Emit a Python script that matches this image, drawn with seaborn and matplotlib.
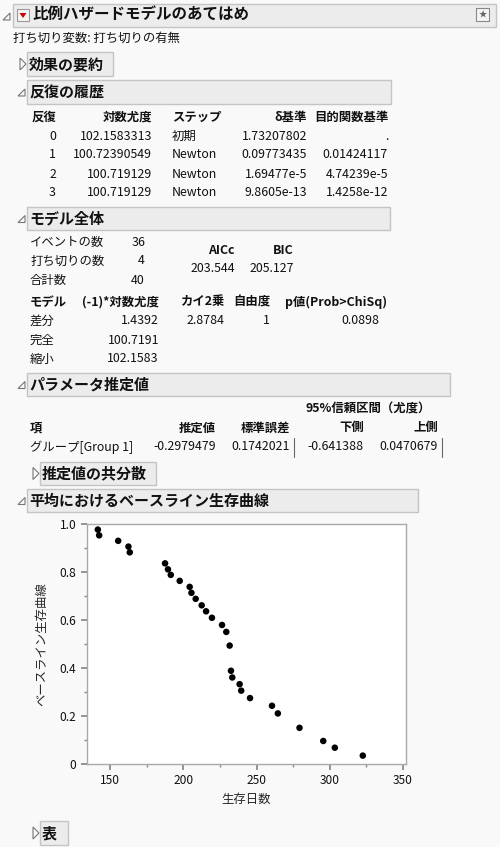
import matplotlib
matplotlib.use("Agg")
import matplotlib.pyplot as plt
import seaborn as sns
import pandas as pd
from matplotlib.patches import Rectangle, Polygon

sns.set_theme(style="white")
plt.rcParams['font.family'] = ['Noto Sans CJK JP', 'DejaVu Sans']

# ---- data ----
survival_days = [141.6, 142.5, 155.5, 162.5, 163.4, 187.5, 189.5, 191.4, 197.5, 204.3,
                 205.5, 208.4, 212.5, 215.5, 219.5, 226.4, 229.3, 231.6, 232.5, 233.4,
                 238.4, 239.5, 245.5, 260.5, 264.5, 279.3, 295.5, 303.4, 322.5]
survival_prob = [0.978, 0.954, 0.931, 0.907, 0.883, 0.837, 0.812, 0.789, 0.764, 0.739,
                 0.714, 0.689, 0.662, 0.637, 0.610, 0.580, 0.551, 0.494, 0.389, 0.361,
                 0.333, 0.306, 0.275, 0.243, 0.211, 0.151, 0.096, 0.068, 0.035]
x_ticks = [150, 200, 250, 300, 350]
y_ticks = [0, 0.2, 0.4, 0.6, 0.8, 1.0]

iter_header = ["反復", "対数尤度", "ステップ", "δ基準", "目的関数基準"]
iter_rows = [["0", "102.1583313", "初期", "1.73207802", "."],
             ["1", "100.72390549", "Newton", "0.09773435", "0.01424117"],
             ["2", "100.719129", "Newton", "1.69477e-5", "4.74239e-5"],
             ["3", "100.719129", "Newton", "9.8605e-13", "1.4258e-12"]]
count_labels = ["イベントの数", "打ち切りの数", "合計数"]
count_values = ["36", "4", "40"]
ic_labels = ["AICc", "BIC"]
ic_values = ["203.544", "205.127"]
model_header = ["モデル", "(-1)*対数尤度", "カイ2乗", "自由度", "p値(Prob>ChiSq)"]
model_rows = [["差分", "1.4392", "2.8784", "1", "0.0898"],
              ["完全", "100.7191", "", "", ""],
              ["縮小", "102.1583", "", "", ""]]
param_header = ["項", "推定値", "標準誤差", "下側", "上側"]
param_row = ["グループ[Group 1]", "-0.2979479", "0.1742021", "-0.641388", "0.0470679"]

BG = "#f9f9f9"
fig = plt.figure(figsize=(5.0, 8.47), dpi=100, facecolor=BG)
L = fig.add_axes([0, 0, 1, 1])
L.set_xlim(0, 500); L.set_ylim(847, 0); L.axis("off")

BODY = 8.9
def T(x, y, s, ha="left", bold=False, size=BODY, color="#111111"):
    L.text(x, y, s, ha=ha, va="center", fontsize=size,
           fontweight="bold" if bold else "normal", color=color)

def header(x0, x1, y0, y1, s, tri="open", size=10.8):
    L.add_patch(Rectangle((x0, y0), x1 - x0, y1 - y0, fc="#ececec", ec="#c4c4c4", lw=1))
    T(x0 + 2, (y0 + y1) / 2, s, bold=True, size=size)
    cy = (y0 + y1) / 2
    if tri == "open":
        L.add_patch(Polygon([(x0 - 9, cy + 4), (x0 - 2, cy + 4), (x0 - 2, cy - 3)],
                            closed=True, fc="none", ec="#777777", lw=0.8))
    elif tri == "closed":
        L.add_patch(Polygon([(x0 - 7, cy - 6), (x0 - 7, cy + 6), (x0 - 1, cy)],
                            closed=True, fc="none", ec="#777777", lw=0.8))

# top header
L.add_patch(Rectangle((13, 4), 483, 23, fc="#ececec", ec="#c4c4c4", lw=1))
L.add_patch(Polygon([(3, 20), (10, 20), (10, 13)], closed=True, fc="none", ec="#777777", lw=0.8))
L.add_patch(Rectangle((17, 9), 12, 12, fc="#f4f4f4", ec="#999999", lw=0.8))
L.add_patch(Polygon([(19.5, 13), (26.5, 13), (23, 18)], closed=True, fc="#d00000", ec="none"))
T(32, 15, "比例ハザードモデルのあてはめ", bold=True, size=11.2)
L.add_patch(Rectangle((476, 8), 13, 13, fc="#f4f4f4", ec="#888888", lw=0.8))
T(482.5, 14.5, "★", ha="center", size=6, color="#666666")
T(13, 38, "打ち切り変数: 打ち切りの有無")

header(27, 113, 52, 76, "効果の要約", tri="closed")
header(27, 391, 80, 104, "反復の履歴")
xs = [(32, "left"), (152, "right"), (172, "left"), (307, "right"), (388, "right")]
for (x, ha), h in zip(xs, iter_header):
    T(x, 117, h, ha=ha, bold=True)
for i, row in enumerate(iter_rows):
    y = 136 + 19 * i
    for j, ((x, ha), v) in enumerate(zip(xs, row)):
        if j == 0:
            T(56, y, v, ha="right")
        else:
            T(x, y, v, ha=ha)

header(27, 390, 207, 230, "モデル全体")
for i, (lab, v) in enumerate(zip(count_labels, count_values)):
    T(30, 242 + 19 * i, lab)
    T(145, 242 + 19 * i, v, ha="right")
for x, lab, v in zip([235, 294], ic_labels, ic_values):
    T(x, 250, lab, ha="right", bold=True)
    T(x, 269, v, ha="right")
mx = [(30, "left"), (159, "right"), (225, "right"), (270, "right"), (387, "right")]
for (x, ha), h in zip(mx, model_header):
    T(x, 302, h, ha=ha, bold=True)
vx = [(30, "left"), (159, "right"), (225, "right"), (270, "right"), (379, "right")]
for i, row in enumerate(model_rows):
    for (x, ha), v in zip(vx, row):
        T(x, 321 + 19 * i, v, ha=ha)

header(27, 450, 373, 396, "パラメータ推定値")
T(305, 409, "95%信頼区間（尤度）", bold=True)
px = [(30, "left"), (216, "right"), (290, "right"), (364, "right"), (438, "right")]
for (x, ha), h in zip(px, param_header):
    T(x, 428, h, ha=ha, bold=True)
for (x, ha), v in zip(px, param_row):
    T(x, 447, v, ha=ha)
for x in [294, 442]:
    L.plot([x, x], [438, 457], color="#666666", lw=0.8)

header(40, 156, 462, 485, "推定値の共分散", tri="closed")
header(27, 418, 489, 512, "平均におけるベースライン生存曲線")
header(40, 68, 821, 845, "表", tri="closed")

# ---- plot ----
ax = fig.add_axes([86.7 / 500, 1 - 764 / 847, (406 - 86.7) / 500, (764 - 524.3) / 847])
df = pd.DataFrame({"生存日数": survival_days, "ベースライン生存曲線": survival_prob})
sns.scatterplot(data=df, x="生存日数", y="ベースライン生存曲線", ax=ax,
                color="black", s=22, edgecolor="none")
ax.set_facecolor("white")
ax.set_xlim(134, 352)
ax.set_ylim(0, 1.0)
ax.set_xticks(x_ticks)
ax.set_yticks(y_ticks)
ax.set_yticklabels(["0", "0.2", "0.4", "0.6", "0.8", "1.0"])
ax.set_xticks([175, 225, 275, 325], minor=True)
ax.set_yticks([0.1, 0.3, 0.5, 0.7, 0.9], minor=True)
ax.tick_params(which="both", direction="out", length=4, color="#888888",
               labelsize=8.6, bottom=True, left=True, colors="#111111")
ax.tick_params(which="minor", length=2.5)
for sp in ax.spines.values():
    sp.set_color("#aaaaaa"); sp.set_linewidth(1)
ax.set_xlabel("生存日数", fontsize=8.9, labelpad=4)
ax.set_ylabel("ベースライン生存曲線", fontsize=8.9, labelpad=8)

fig.savefig("out.png", dpi=100, facecolor=BG)
